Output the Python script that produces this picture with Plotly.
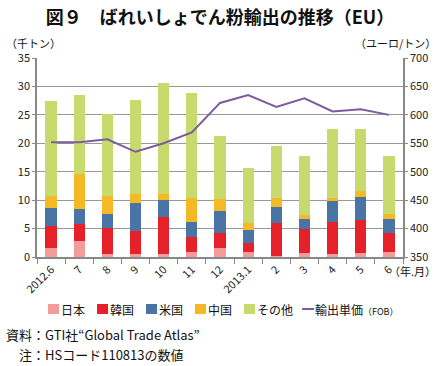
import plotly.graph_objects as go

months = ["2012.6", "7", "8", "9", "10", "11", "12", "2013.1", "2", "3", "4", "5", "6"]
japan = [1.5, 2.75, 0.5, 0.5, 0.5, 0.95, 1.5, 0.95, 0.15, 0.65, 0.5, 0.75, 0.95]
korea = [3.9, 3.05, 4.6, 4.15, 6.5, 2.65, 2.7, 1.5, 5.85, 4.3, 5.65, 5.75, 3.25]
usa = [3.2, 2.65, 2.5, 4.8, 3.0, 2.5, 3.95, 2.25, 2.75, 1.75, 3.65, 4.0, 2.5]
china = [2.1, 6.2, 3.1, 1.6, 1.1, 4.3, 2.05, 1.3, 1.65, 0.75, 0.5, 1.1, 0.8]
others = [16.8, 13.85, 14.5, 16.5, 19.5, 18.4, 11.0, 9.65, 9.05, 10.25, 12.3, 10.85, 10.2]
price = [552, 552, 557, 535, 550, 569, 621, 635, 614, 629, 606, 610, 600]

FONT = "Noto Sans CJK JP"
W, H = 440, 366
L, R, T, B = 37, 403, 58, 257

def px(x):
    return (x - L) / (R - L)

def py(y):
    return (B - y) / (B - T)

fig = go.Figure()
series = [
    ("日本", japan, "#F29C9C"),
    ("韓国", korea, "#E62129"),
    ("米国", usa, "#4A74A6"),
    ("中国", china, "#F5B925"),
    ("その他", others, "#C6DA6E"),
]
for name, vals, col in series:
    fig.add_trace(go.Bar(x=months, y=vals, name=name, marker=dict(color=col, line=dict(width=0)),
                         yaxis="y", showlegend=False))
LINE_NAME = "輸出単価（FOB）"
LINE_COL = "#7B5C9C"
fig.add_trace(go.Scatter(x=months, y=price, name=LINE_NAME, mode="lines",
                         line=dict(color=LINE_COL, width=2), yaxis="y2", showlegend=False))

fig.update_layout(
    width=W, height=H,
    margin=dict(l=L, r=W - R, t=T, b=H - B, autoexpand=False),
    barmode="stack", bargap=0.6,
    plot_bgcolor="white", paper_bgcolor="white",
    font=dict(family=FONT, size=11, color="#222"),
    showlegend=False,
    xaxis=dict(type="category", tickangle=-45, showgrid=False, showline=True,
               linecolor="#888", linewidth=1.5, ticks="outside", ticklen=5,
               tickcolor="#888", tickson="boundaries", tickfont=dict(size=11)),
    yaxis=dict(range=[0, 35], dtick=5, showgrid=True, gridcolor="#999", gridwidth=1,
               showline=True, linecolor="#888", linewidth=1.5, ticks="outside",
               ticklen=3, tickcolor="#888", zeroline=False, tickfont=dict(size=11)),
    yaxis2=dict(range=[350, 700], dtick=50, overlaying="y", side="right", showgrid=False,
                showline=True, linecolor="#888", linewidth=1.5, ticks="outside",
                ticklen=3, tickcolor="#888", zeroline=False, tickfont=dict(size=11)),
    title=dict(text="<b>図９　ばれいしょでん粉輸出の推移（EU）</b>", x=0.5, xanchor="center",
               y=1 - 18 / H, yanchor="middle", font=dict(size=18, family=FONT, color="#111")),
)

# legend row (built from the series names/colours)
leg_x = [48, 97, 146, 195, 244]
LY = 309
for (name, _, col), x0 in zip(series, leg_x):
    fig.add_shape(type="rect", xref="paper", yref="paper", x0=px(x0), x1=px(x0 + 11),
                  y0=py(LY + 5), y1=py(LY - 5), fillcolor=col, line=dict(width=0))
    fig.add_annotation(text=name, xref="paper", yref="paper", x=px(x0 + 11), y=py(LY),
                       xanchor="left", yanchor="middle", showarrow=False,
                       font=dict(size=12, family=FONT, color="#111"))
fig.add_shape(type="line", xref="paper", yref="paper", x0=px(302), x1=px(314),
              y0=py(LY), y1=py(LY), line=dict(color=LINE_COL, width=2))
fig.add_annotation(text="輸出単価<span style='font-size:9px'>（FOB）</span>", xref="paper", yref="paper",
                   x=px(313), y=py(LY), xanchor="left", yanchor="middle", showarrow=False,
                   font=dict(size=12, family=FONT, color="#111"))

annots = [
    ("（千トン）", 4, 43, "left", 11),
    ("（ユーロ/トン）", 438, 43, "right", 11),
    ("（年.月）", 438, 271, "right", 11),
    ("資料：GTI社“Global Trade Atlas”", 4, 334, "left", 13),
    ("　注：HSコード110813の数値", 4, 354, "left", 13),
]
for text, x, y, anc, size in annots:
    fig.add_annotation(text=text, xref="paper", yref="paper", x=px(x), y=py(y),
                       xanchor=anc, yanchor="middle", showarrow=False,
                       font=dict(size=size, family=FONT, color="#111"))

fig.write_html("out.html", config={"displayModeBar": False},
               post_script="document.body.style.margin='0';document.body.style.overflow='hidden';")
